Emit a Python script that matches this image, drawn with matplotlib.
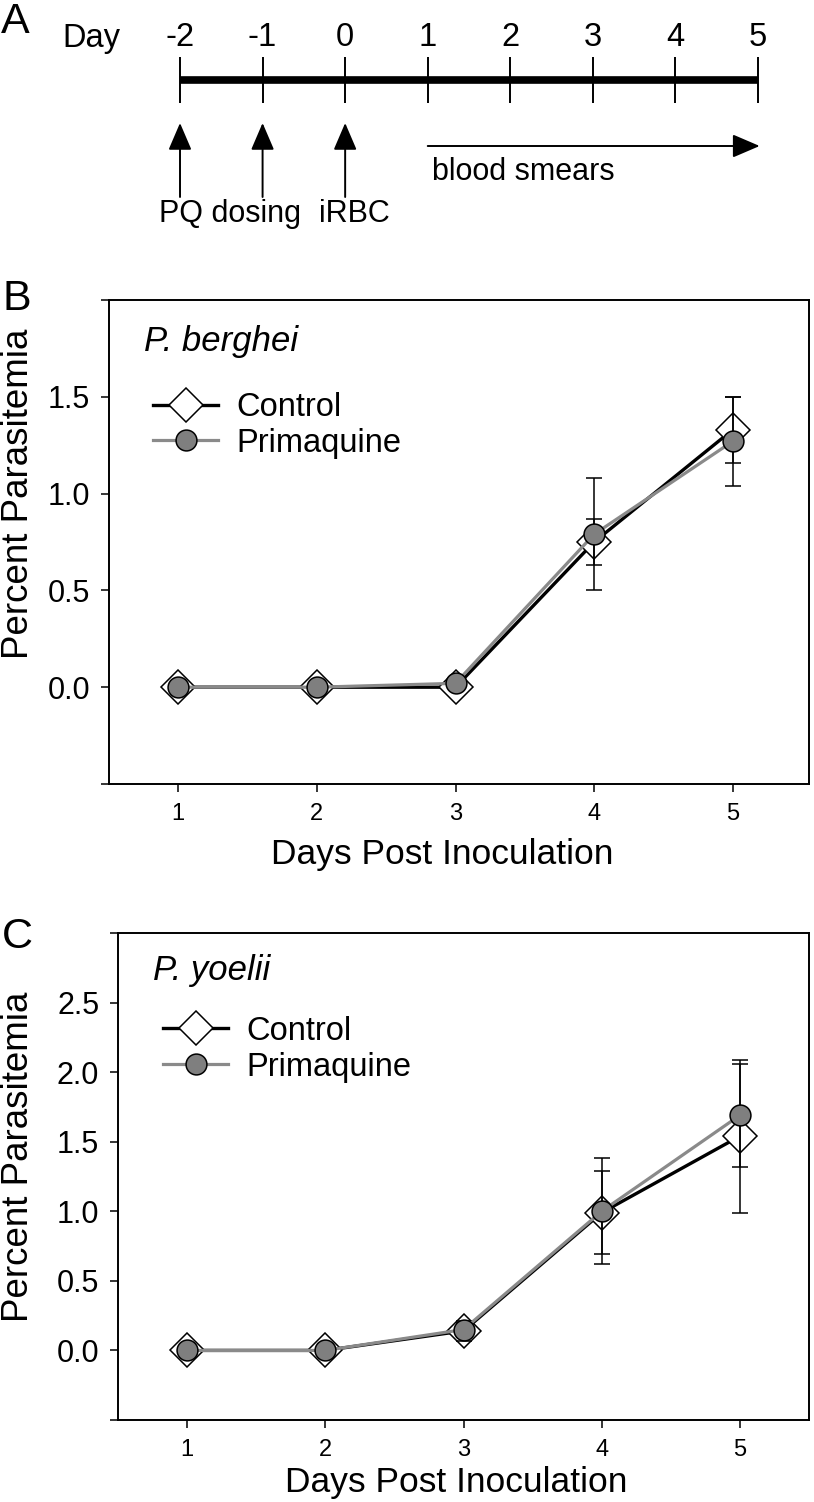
import matplotlib
matplotlib.use("Agg")
import matplotlib.pyplot as plt
from matplotlib.lines import Line2D

plt.rcParams['font.family'] = ['Liberation Sans', 'DejaVu Sans']

# timeline (panel A)
timeline_days = [-2, -1, 0, 1, 2, 3, 4, 5]
event_days = [-2, -1, 0]
smear_start, smear_end = 1, 5

# parasitemia data
days = [1, 2, 3, 4, 5]
b_control = [0.0, 0.0, 0.0, 0.75, 1.33]
b_control_err = [0.0, 0.0, 0.0, 0.12, 0.17]
b_prima = [0.0, 0.0, 0.02, 0.79, 1.27]
b_prima_err = [0.0, 0.0, 0.0, 0.29, 0.23]

c_control = [0.0, 0.0, 0.14, 0.99, 1.54]
c_control_err = [0.0, 0.0, 0.07, 0.30, 0.55]
c_prima = [0.0, 0.0, 0.15, 1.00, 1.69]
c_prima_err = [0.0, 0.0, 0.05, 0.38, 0.37]

W, H = 814, 1502
fig = plt.figure(figsize=(W / 100, H / 100), dpi=100)

# ---------- panel A ----------
axA = fig.add_axes([0, 1 - 240 / H, 1, 240 / H])
axA.set_xlim(-4.18, 5.678)
axA.set_ylim(240, 0)
axA.axis('off')
axA.plot([timeline_days[0], timeline_days[-1]], [80, 80], color='k', lw=5.5,
         solid_capstyle='butt')
axA.vlines(timeline_days, 57, 103, color='k', lw=1.4)
for d in timeline_days:
    axA.text(d, 38, str(d), ha='center', va='center', fontsize=23.5)
axA.text(-3.07, 38, 'Day', ha='center', va='center', fontsize=23.5)
arrow = dict(arrowstyle='-|>,head_length=0.7,head_width=0.3', mutation_scale=24,
             color='k', lw=1.4, shrinkA=0, shrinkB=0)
for d in event_days:
    axA.annotate('', xy=(d, 123), xytext=(d, 197), arrowprops=arrow)
axA.text(-2.25, 214, 'PQ dosing', ha='left', va='center', fontsize=22)
axA.text(-0.32, 214, 'iRBC', ha='left', va='center', fontsize=22)
axA.annotate('', xy=(smear_end + 0.02, 146), xytext=(smear_start, 146), arrowprops=arrow)
axA.text(1.05, 172, 'blood smears', ha='left', va='center', fontsize=22)
fig.text(1 / W, 1 - 22 / H, 'A', ha='left', va='center', fontsize=31)


def panel(rect, control, control_err, prima, prima_err, ylim, yticks, xlim,
          title, title_y, leg_xy, ylab_x, ylab_y, xlab_y, xlab_x):
    ax = fig.add_axes(rect)
    ax.plot(days, control, color='k', lw=2.4, marker='D', markersize=17.5,
            markerfacecolor='white', markeredgecolor='k', markeredgewidth=1.1,
            zorder=2)
    ax.errorbar(days, control, yerr=control_err, fmt='none', ecolor='k',
                elinewidth=1.1, capsize=5.8, capthick=1.1, zorder=3)
    ax.errorbar(days, prima, yerr=prima_err, fmt='none', ecolor='k',
                elinewidth=1.1, capsize=5.8, capthick=1.1, zorder=3)
    ax.plot(days, prima, color='#8a8a8a', lw=2.3, marker='o', markersize=15,
            markerfacecolor='#7f7f7f', markeredgecolor='k', markeredgewidth=1.1,
            zorder=4)
    ax.set_xlim(*xlim)
    ax.set_ylim(*ylim)
    ax.set_xticks(days)
    ax.set_xticklabels([str(d) for d in days], fontsize=17)
    ax.set_yticks(yticks)
    ax.set_yticklabels(['' if (t == yticks[0] or t == yticks[-1]) else f'{t:.1f}'
                        for t in yticks], fontsize=22)
    ax.tick_params(axis='both', direction='out', length=5.5, width=1.1)
    ax.tick_params(axis='x', pad=8)
    ax.tick_params(axis='y', pad=8)
    for s in ax.spines.values():
        s.set_linewidth(1.4)
    ax.set_ylabel('Percent Parasitemia', fontsize=26.5)
    ax.yaxis.set_label_coords(ylab_x, ylab_y)
    ax.set_xlabel('Days Post Inoculation', fontsize=25.5)
    ax.xaxis.set_label_coords(xlab_x, xlab_y)
    ax.text(0.05, title_y, title, style='italic', fontsize=25,
            transform=ax.transAxes, ha='left', va='center')
    handles = [
        Line2D([], [], color='k', lw=2.4, marker='D', markersize=17.5,
               markerfacecolor='white', markeredgecolor='k', markeredgewidth=1.1),
        Line2D([], [], color='#8a8a8a', lw=2.3, marker='o', markersize=15,
               markerfacecolor='#7f7f7f', markeredgecolor='k', markeredgewidth=1.1),
    ]
    ax.legend(handles, ['Control', 'Primaquine'], loc='upper left',
              bbox_to_anchor=leg_xy, frameon=False, fontsize=23.5,
              borderaxespad=0, borderpad=0, handlelength=2.0,
              handletextpad=0.55, labelspacing=0.15)
    return ax


# ---------- panel B ----------
panel([109 / W, 1 - 784 / H, 700 / W, 484 / H], b_control, b_control_err,
      b_prima, b_prima_err, (-0.5, 2.0), [-0.5, 0.0, 0.5, 1.0, 1.5, 2.0],
      (0.5, 5.55), 'P. berghei', 0.915, (0.063, 0.81), -0.104, 0.60, -0.112, 0.476)
fig.text(2 / W, 1 - 299 / H, 'B', ha='left', va='center', fontsize=31)

# ---------- panel C ----------
panel([118 / W, 1 - 1420 / H, 691 / W, 487 / H], c_control, c_control_err,
      c_prima, c_prima_err, (-0.5, 3.0),
      [-0.5, 0.0, 0.5, 1.0, 1.5, 2.0, 2.5, 3.0],
      (0.5, 5.5), 'P. yoelii', 0.924, (0.065, 0.83), -0.118, 0.54, -0.094, 0.49)
fig.text(2 / W, 1 - 937 / H, 'C', ha='left', va='center', fontsize=31)

fig.savefig('out.png', dpi=100)
